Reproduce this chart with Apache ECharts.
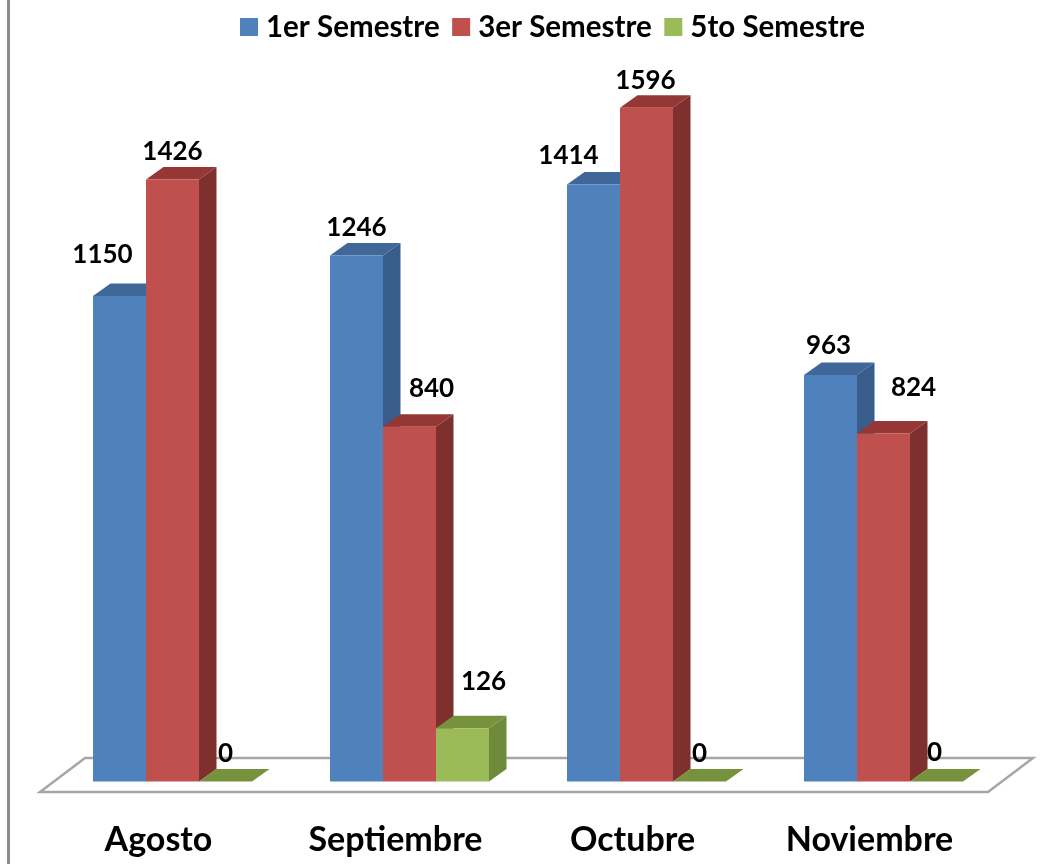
<!DOCTYPE html>
<html>
<head>
<meta charset="utf-8">
<style>html,body{margin:0;padding:0;background:#fff}#c{width:1053px;height:864px}</style>
<script src="https://cdn.jsdelivr.net/npm/echarts@6/dist/echarts.min.js"></script>
</head>
<body>
<div id="c"></div>
<script>
const categories = ['Agosto', 'Septiembre', 'Octubre', 'Noviembre'];
const seriesNames = ['1er Semestre', '3er Semestre', '5to Semestre'];
const semester1 = [1150, 1246, 1414, 963];
const semester3 = [1426, 840, 1596, 824];
const semester5 = [0, 126, 0, 0];

const FONT = 'Lato';
const faceColors = ['#4F81BD', '#C0504D', '#9BBB59'];
const sideColors = ['#385D8A', '#7D302E', '#6F8A3A'];
const topColors = ['#3F6797', '#953735', '#76923C'];
const BAR_RATIO = 53 / 237, SHIFT_RATIO = 14 / 237;
const DEPTH_X = 17.5, DEPTH_Y = -12.5;
// label nudges relative to the bar's front-face centre (hand-placed in the original)
const labelNudge = [
  [[-17, -41], [0, -28], [0, -28]],
  [[0, -28], [22, -38], [21, -47]],
  [[-25, -29], [-1, -27], [0, -28]],
  [[-2, -29], [30, -46], [-2, -29]]
];

const chart = echarts.init(document.getElementById('c'), null, { renderer: 'canvas' });

function barRenderer(s) {
  return function (params, api) {
    const idx = api.value(0), val = api.value(1);
    const p = api.coord([idx, val]);
    const y0 = api.coord([idx, 0])[1];
    const band = api.size([1, 0])[0];
    const w = band * BAR_RATIO;
    const l = p[0] + band * SHIFT_RATIO + (s - 1.5) * w;
    const r = l + w, t = p[1];
    const kids = [
      { type: 'polygon', shape: { points: [[r, t], [r + DEPTH_X, t + DEPTH_Y], [r + DEPTH_X, y0 + DEPTH_Y], [r, y0]] }, style: { fill: sideColors[s] } },
      { type: 'polygon', shape: { points: [[l, t], [l + DEPTH_X, t + DEPTH_Y], [r + DEPTH_X, t + DEPTH_Y], [r, t]] }, style: { fill: topColors[s] } },
      { type: 'rect', shape: { x: l, y: t, width: w, height: y0 - t }, style: { fill: faceColors[s] } },
      { type: 'text', z2: 50, style: {
          text: String(val), x: l + w / 2 + labelNudge[idx][s][0], y: t + labelNudge[idx][s][1],
          align: 'center', verticalAlign: 'middle', fill: '#000',
          font: 'bold 26px ' + FONT } }
    ];
    return { type: 'group', children: kids };
  };
}

function floorRenderer(params, api) {
  const cs = params.coordSys;
  const front = cs.y + cs.height + 10.5, back = cs.y + cs.height - 23.5;
  const xl = cs.x, xr = cs.x + cs.width, dx = 45;
  return {
    type: 'polygon',
    shape: { points: [[xl, front], [xr, front], [xr + dx, back], [xl + dx, back]] },
    style: { fill: '#fff', stroke: '#A6A6A6', lineWidth: 2.5 }
  };
}

function barSeries(name, values, s) {
  return {
    name, type: 'custom', coordinateSystem: 'cartesian2d',
    renderItem: barRenderer(s),
    itemStyle: { color: faceColors[s] },
    encode: { x: 0, y: 1 },
    silent: true,
    data: values.map((v, i) => [i, v])
  };
}

chart.setOption({
  animation: false,
  backgroundColor: '#fff',
  grid: { left: 40, top: 21.5, width: 948, height: 760, containLabel: false },
  legend: {
    data: seriesNames, left: 235, top: 7, icon: 'rect', itemWidth: 18, itemHeight: 18, itemGap: 12.5,
    textStyle: { fontFamily: FONT, fontWeight: 'bold', fontSize: 29.5, color: '#000', padding: [0, 0, 0, 3] },
    selectedMode: false
  },
  xAxis: {
    type: 'category', data: categories,
    axisLine: { show: false }, axisTick: { show: false }, splitLine: { show: false },
    axisLabel: { fontFamily: FONT, fontWeight: 'bold', fontSize: 34, color: '#000', margin: 42, interval: 0 }
  },
  yAxis: { type: 'value', min: 0, max: 1800, show: false },
  graphic: [{
    type: 'line', silent: true, z: 100,
    shape: { x1: 8.5, y1: 0, x2: 8.5, y2: 864 },
    style: { stroke: '#8C8C8C', lineWidth: 3 }
  }],
  series: [
    { type: 'custom', name: 'floor', coordinateSystem: 'cartesian2d', renderItem: floorRenderer, silent: true, z: 1, data: [[0, 0]], encode: { x: 0, y: 1 } },
    barSeries(seriesNames[0], semester1, 0),
    barSeries(seriesNames[1], semester3, 1),
    barSeries(seriesNames[2], semester5, 2)
  ]
});
</script>
</body>
</html>
